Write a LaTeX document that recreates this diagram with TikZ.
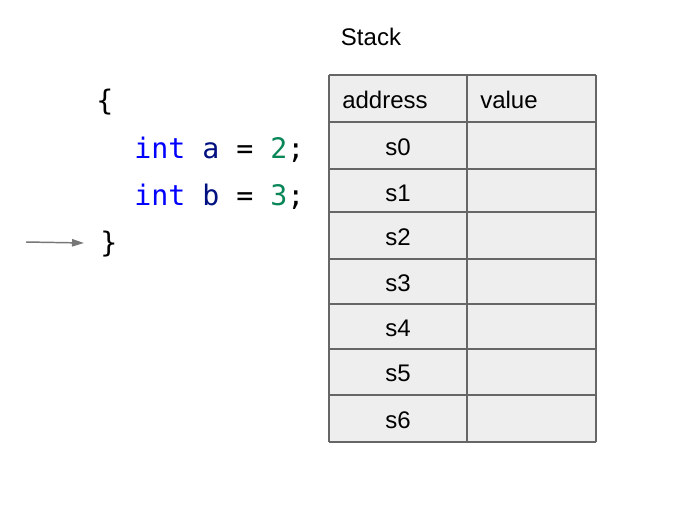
\documentclass[tikz,border=0pt]{standalone}
\usepackage{fontspec}
\setmainfont{Liberation Sans}
\setmonofont{DejaVu Sans Mono}
\usetikzlibrary{positioning,arrows.meta}

\definecolor{cellgray}{HTML}{EEEEEE}
\definecolor{linegray}{HTML}{666666}
\definecolor{arrowgray}{HTML}{777777}
\definecolor{kwblue}{HTML}{0000FF}
\definecolor{varnavy}{HTML}{001080}
\definecolor{numgreen}{HTML}{098658}

\begin{document}
\begin{tikzpicture}[x=0.75pt,y=-0.75pt,every node/.style={inner sep=0pt},
		code/.style={anchor=base west,font=\ttfamily\fontsize{21.2}{25}\selectfont},
		cell/.style={font=\fontsize{18}{22}\selectfont}
	]

	\useasboundingbox (0,0) rectangle (687,508);

	% Title over the table
	\node[cell] (title) at (371,37) {Stack};

	% Code lines
	\node[code] (lbrace) at (96,110) {\{};
	\node[code] (linea) at (134,158) {\textcolor{kwblue}{int} \textcolor{varnavy}{a} = \textcolor{numgreen}{2};};
	\node[code] (lineb) at (134,205) {\textcolor{kwblue}{int} \textcolor{varnavy}{b} = \textcolor{numgreen}{3};};
	\node[code] (rbrace) at (100,252) {\}};

	% Pointer to the current line
	\coordinate (pcstart) at (26,242);
	\coordinate (pcend) at (84,243);
	\draw[arrowgray,line width=1.1pt,-{Triangle[length=9pt,width=5.5pt]}] (pcstart) -- (pcend);

	% Table body
	\fill[cellgray] (329,75) rectangle (596,442);
	\foreach \yy in {75,122,169,212,259,304,349,395,442} {
		\draw[linegray,line width=1.1pt] (329,\yy) -- (596,\yy);
	}
	\foreach \xx in {329,467,596} {
		\draw[linegray,line width=1.1pt] (\xx,75) -- (\xx,442);
	}

	% Header
	\node[cell,anchor=west] (address) at (342,100) {address};
	\node[cell,anchor=west] (value) at (480,100) {value};

	% Addresses
	\foreach \i/\yy in {0/147,1/193,2/237,3/283,4/328,5/373,6/420} {
		\node[cell] (s\i) at (398,\yy) {s\i};
	}

\end{tikzpicture}
\end{document}
